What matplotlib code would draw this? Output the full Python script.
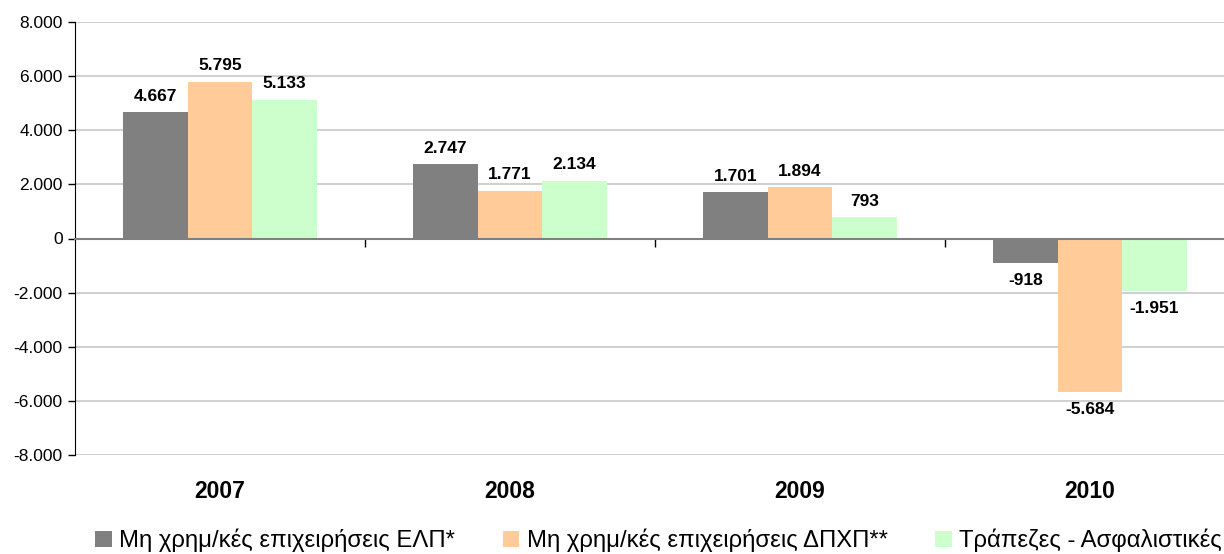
import matplotlib.pyplot as plt
import matplotlib.transforms as mtransforms
import numpy as np

plt.rcParams['font.family'] = ['Liberation Sans', 'DejaVu Sans']

# data
years = ["2007", "2008", "2009", "2010"]
elp = [4667, 2747, 1701, -918]
dpxp = [5795, 1771, 1894, -5684]
trapezes = [5133, 2134, 793, -1951]
series_names = ["Μη χρημ/κές επιχειρήσεις ΕΛΠ*",
                "Μη χρημ/κές επιχειρήσεις ΔΠΧΠ**",
                "Τράπεζες - Ασφαλιστικές"]
colors = ["#808080", "#FFCC99", "#CCFFCC"]
yticks = [-8000, -6000, -4000, -2000, 0, 2000, 4000, 6000, 8000]


def teleia(v):
    # greek style thousands separator
    return f"{v:,.0f}".replace(",", ".")


fig = plt.figure(figsize=(12.24, 5.54), dpi=100)
# plot area runs a little past the right edge, as in the original
ax = fig.add_axes([75 / 1224, 99 / 554, 1160 / 1224, 433 / 554])

x = np.arange(len(years))
w = 0.222
for i, (vals, name, c) in enumerate(zip([elp, dpxp, trapezes], series_names, colors)):
    bars = ax.bar(x + (i - 1) * w, vals, w, color=c, label=name, zorder=3)
    for b, v in zip(bars, vals):
        off = 6 if v >= 0 else -7
        ax.annotate(teleia(v), (b.get_x() + b.get_width() / 2, v),
                    xytext=(0, off), textcoords="offset points",
                    ha="center", va="bottom" if v >= 0 else "top",
                    fontsize=12.5, fontweight="bold", zorder=4)

ax.set_xlim(-0.5, 3.5)
ax.set_ylim(-8000, 8000)
ax.set_yticks(yticks)
ax.set_yticklabels([teleia(t) for t in yticks], fontsize=12.5)
ax.yaxis.grid(True, color="#c8c8c8", linewidth=1.2, zorder=0)
ax.tick_params(axis="y", length=5, width=1, direction="out", pad=4)

for s in ["top", "right"]:
    ax.spines[s].set_visible(False)
ax.spines["left"].set_color("black")
ax.spines["bottom"].set_position(("data", 0))
ax.spines["bottom"].set_color("#808080")
ax.spines["bottom"].set_linewidth(1.5)
ax.spines["bottom"].set_zorder(5)

ax.set_xticks([0.5, 1.5, 2.5])
ax.set_xticklabels([])
ax.tick_params(axis="x", length=6, width=1, direction="out", color="black")

trans = mtransforms.blended_transform_factory(ax.transData, ax.transAxes)
for xi, yr in zip(x, years):
    ax.text(xi, -0.085, yr, transform=trans, ha="center", va="center",
            fontsize=16.5, fontweight="bold")

fig.legend(loc="center", bbox_to_anchor=(0.538, 0.024), ncol=3, frameon=False,
           fontsize=17.2, handlelength=0.7, handleheight=0.7, handletextpad=0.3,
           columnspacing=2.0, borderpad=0)

fig.savefig("out.png", dpi=100)
